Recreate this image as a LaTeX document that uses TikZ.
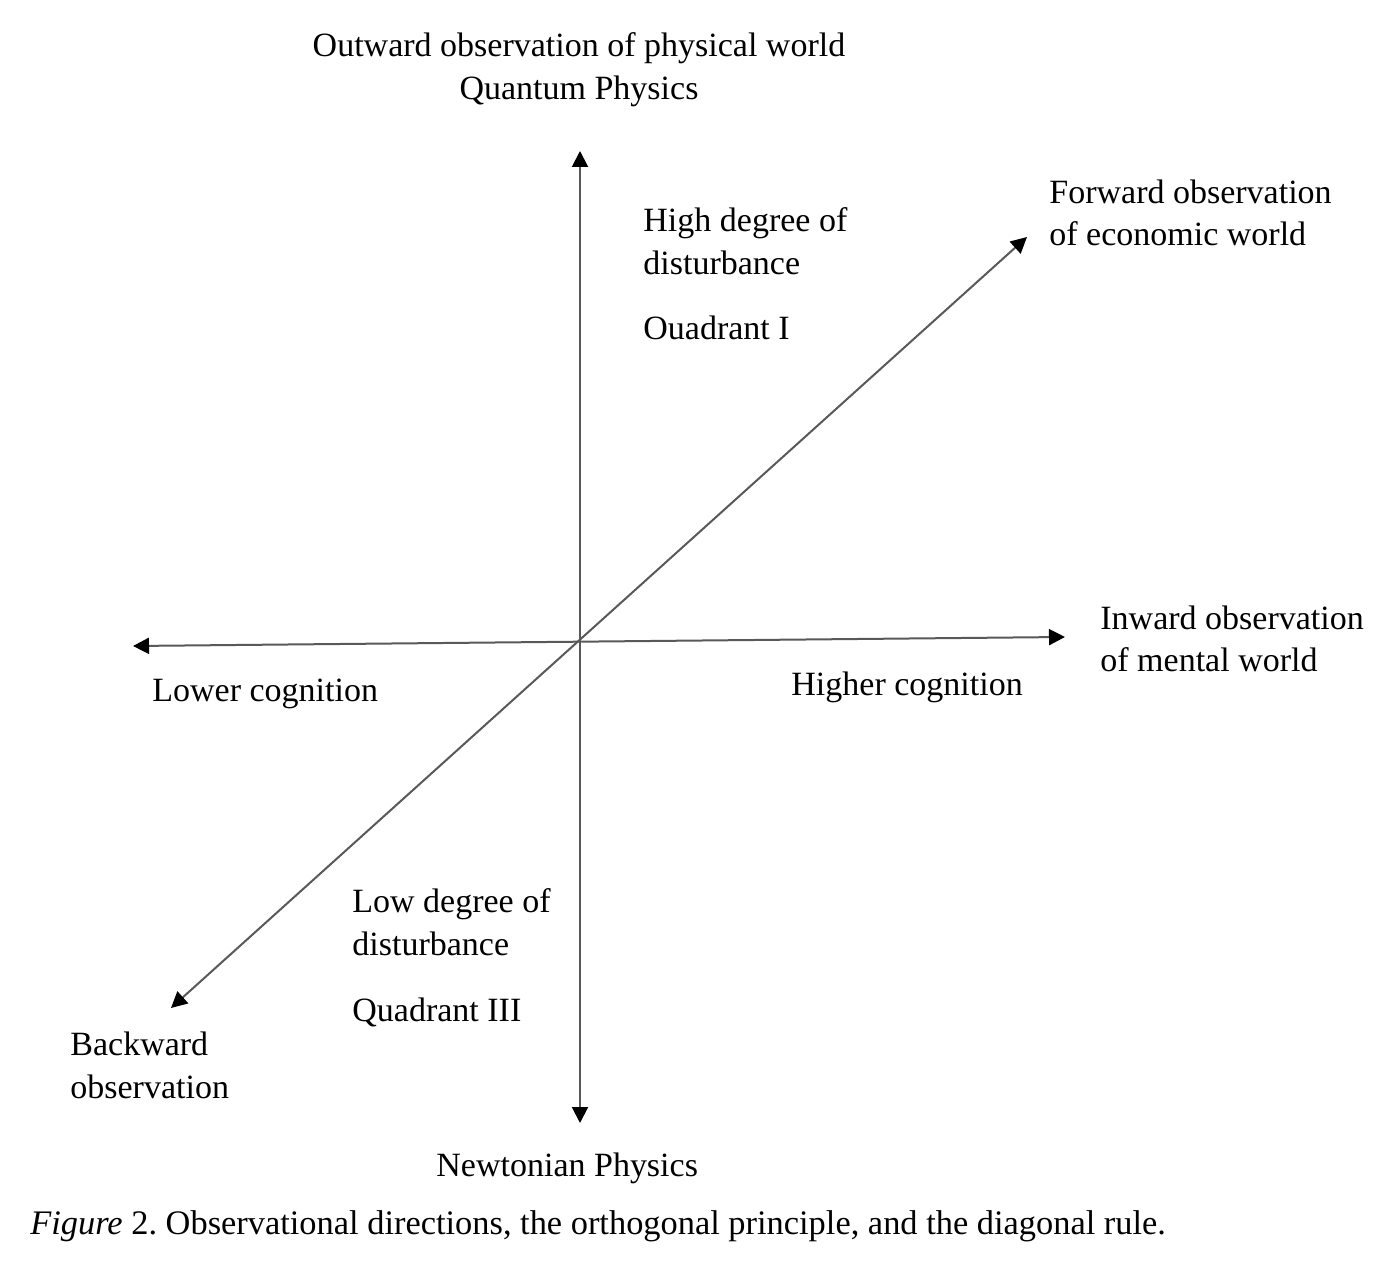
\documentclass[tikz,border=0pt]{standalone}
\usepackage{fontspec}
\setmainfont{Liberation Serif}
\usetikzlibrary{arrows.meta}
\frenchspacing
\begin{document}
\begin{tikzpicture}[x=0.5pt,y=-0.5pt,
  axis/.style={draw=black!65, line width=1pt, {Triangle[length=8pt,width=8pt,color=black]}-{Triangle[length=8pt,width=8pt,color=black]}},
  lbl/.style={anchor=base west, inner sep=0pt, font=\fontsize{17}{20}\selectfont}]
\useasboundingbox[fill=white] (0,0) rectangle (1388,1261);
\coordinate (T) at (580,151);
\coordinate (B) at (580,1123);
\coordinate (L) at (133,646);
\coordinate (R) at (1065,637);
\coordinate (FE) at (1027,237);
\coordinate (BW) at (171,1008);
\draw[axis] (B) -- (T);
\draw[axis] (L) -- (R);
\draw[axis] (BW) -- (FE);
\node[lbl, anchor=base] (t1) at (579,57) {Outward observation of physical world};
\node[lbl, anchor=base] (t2) at (579,100) {Quantum Physics};
\node[lbl] (q1a) at (643,232) {High degree of};
\node[lbl] (q1b) at (643,275) {disturbance};
\node[lbl] (q1c) at (643,340) {Ouadrant I};
\node[lbl] (f1) at (1049,204) {Forward observation};
\node[lbl] (f2) at (1049,246) {of economic world};
\node[lbl] (i1) at (1100,630) {Inward observation};
\node[lbl] (i2) at (1100,672) {of mental world};
\node[lbl] (hc) at (791,696) {Higher cognition};
\node[lbl] (lc) at (152,702) {Lower cognition};
\node[lbl] (q3a) at (352,913) {Low degree of};
\node[lbl] (q3b) at (352,955) {disturbance};
\node[lbl] (q3c) at (352,1021) {Quadrant III};
\node[lbl] (b1) at (70,1055) {Backward};
\node[lbl] (b2) at (70,1098) {observation};
\node[lbl] (np) at (436,1176) {Newtonian Physics};
\node[lbl, font=\fontsize{17.2}{20}\selectfont] (cap) at (30,1234) {\textit{Figure} 2. Observational directions, the orthogonal principle, and the diagonal rule.};
\end{tikzpicture}
\end{document}
